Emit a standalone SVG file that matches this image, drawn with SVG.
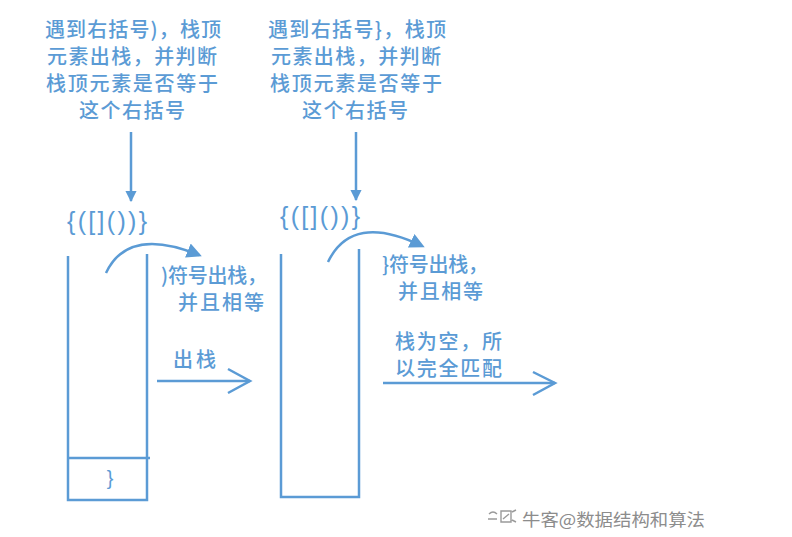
<svg xmlns="http://www.w3.org/2000/svg" width="792" height="537" viewBox="0 0 792 537">
<style>
.t{font-family:"Noto Sans CJK SC","Noto Sans",sans-serif;font-size:20px;font-weight:500;fill:#5b9bd5;}
.c{text-anchor:middle;}
.b{font-family:"Liberation Sans","DejaVu Sans",sans-serif;font-size:25px;fill:#5b9bd5;}
.ln{stroke:#5b9bd5;stroke-width:2.5;fill:none;}
.wm{font-family:"Noto Sans CJK SC",sans-serif;font-size:17px;fill:#8c8c8c;}
</style>
<defs>
<marker id="tri" viewBox="0 0 10 10" refX="9" refY="5" markerWidth="4.5" markerHeight="4.5" orient="auto" markerUnits="strokeWidth">
<path d="M0,0 L10,5 L0,10 z" fill="#5b9bd5"/>
</marker>
<marker id="big" viewBox="0 0 10 10" refX="8" refY="5" markerWidth="6" markerHeight="6" orient="auto" markerUnits="strokeWidth">
<path d="M0,0 L10,5 L0,10 z" fill="#5b9bd5"/>
</marker>
</defs>
<rect width="792" height="537" fill="#ffffff"/>
<g id="note-left">
<text class="t c" x="133" y="37" textLength="176">遇到右括号)，栈顶</text>
<text class="t c" x="132" y="64" textLength="170">元素出栈，并判断</text>
<text class="t c" x="132" y="91" textLength="172">栈顶元素是否等于</text>
<text class="t c" x="132" y="118" textLength="106">这个右括号</text>
</g>
<g id="note-right">
<text class="t c" x="357" y="37" textLength="178">遇到右括号}，栈顶</text>
<text class="t c" x="356" y="64" textLength="170">元素出栈，并判断</text>
<text class="t c" x="356" y="91" textLength="172">栈顶元素是否等于</text>
<text class="t c" x="355" y="118" textLength="106">这个右括号</text>
</g>
<g id="seq-left">
<text class="b" x="67" y="230" textLength="80" lengthAdjust="spacing">{([]())}</text>
</g>
<g id="seq-right">
<text class="b" x="280" y="225" textLength="80" lengthAdjust="spacing">{([]())}</text>
</g>
<g id="stack-left">
<path class="ln" d="M68,256 V500 H147 V254"/>
<line class="ln" x1="68" y1="458" x2="150" y2="458"/>
<text class="b" x="110" y="485" style="font-size:20px" text-anchor="middle">}</text>
</g>
<g id="stack-right">
<path class="ln" d="M281,254 V497 H359 V249"/>
</g>
<g id="label-pop1">
<text class="t" x="161" y="283" textLength="106">)符号出栈，</text>
<text class="t" x="178" y="310" textLength="86">并且相等</text>
</g>
<g id="label-pop2">
<text class="t" x="382" y="272" textLength="106">}符号出栈，</text>
<text class="t" x="398" y="299" textLength="85">并且相等</text>
</g>
<g id="label-out">
<text class="t" x="173" y="367" textLength="43">出栈</text>
</g>
<g id="label-empty">
<text class="t" x="395" y="349" textLength="107">栈为空，所</text>
<text class="t" x="395" y="376" textLength="107">以完全匹配</text>
</g>
<g id="connectors">
<line class="ln" x1="131" y1="132" x2="131" y2="201" marker-end="url(#tri)"/>
<line class="ln" x1="356" y1="132" x2="356" y2="200" marker-end="url(#tri)"/>
<path class="ln" d="M106,273 Q128,226 199,255" marker-end="url(#big)"/>
<path class="ln" d="M328,262 Q352,212 422,246" marker-end="url(#big)"/>
<line class="ln" x1="157" y1="381" x2="250" y2="381"/>
<path class="ln" d="M228,369 L250,381 L228,393"/>
<line class="ln" x1="383" y1="383" x2="555" y2="383"/>
<path class="ln" d="M533,372 L555,383 L533,395"/>
</g>
<g id="watermark">
<path d="M489,514 q4,-4 8,0 M488,519 h9 M501,511 h10 v11 h-10 z M503,519 l6,-5 M512,512 l4,-2 M512,520 l4,2" stroke="#9a9a9a" stroke-width="1.4" fill="none"/>
<text class="wm" x="522" y="526" textLength="183" lengthAdjust="spacingAndGlyphs">牛客@数据结构和算法</text>
</g>
</svg>
